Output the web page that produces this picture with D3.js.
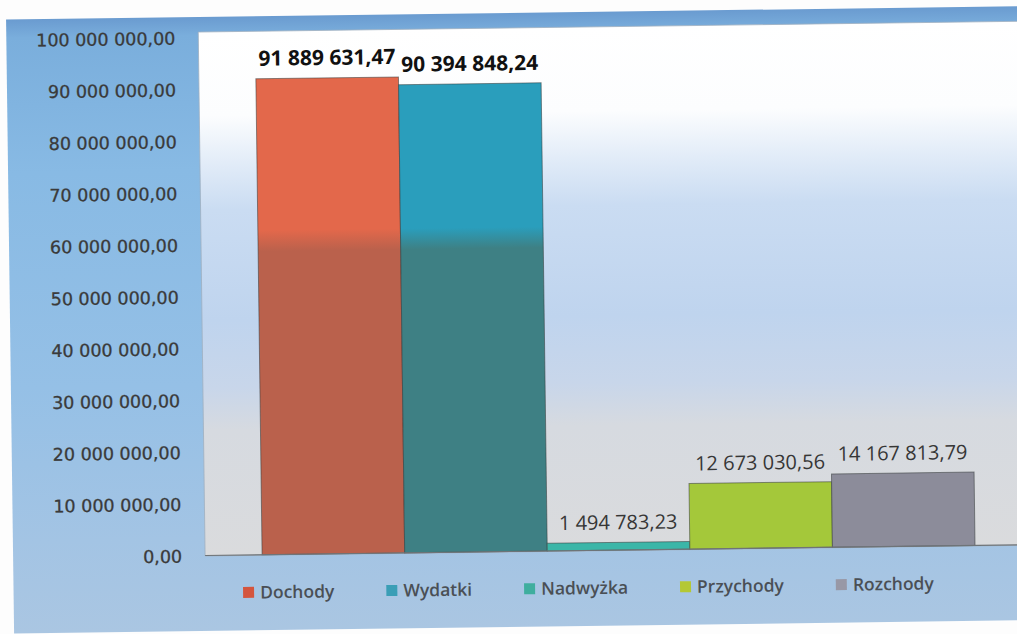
<!DOCTYPE html>
<html>
<head>
<meta charset="utf-8">
<script src="https://cdn.jsdelivr.net/npm/d3@7"></script>
<style>
  html, body { margin: 0; padding: 0; background: #fdfdfd; }
  svg { display: block; }
</style>
</head>
<body>
<svg id="chart" width="1017" height="634"></svg>
<script>
// ---- data ----
const categories = ["Dochody", "Wydatki", "Nadwyżka", "Przychody", "Rozchody"];
const values = [91889631.47, 90394848.24, 1494783.23, 12673030.56, 14167813.79];
const yTicks = [0, 10000000, 20000000, 30000000, 40000000, 50000000, 60000000, 70000000, 80000000, 90000000, 100000000];

// ---- styles ----
const barTop = ["#e3684b", "#2a9ebc", "#3fc2b2", "#acd23e", "#8e8f9d"];
const barBottom = ["#ba614c", "#3e8084", "#3bb6a8", "#a4c83a", "#8c8c9a"];
const legendColors = ["#d4553e", "#3a9eb6", "#3fae9e", "#b4c834", "#9898a6"];
const labelWeights = [700, 700, 400, 400, 400];

const pl = d3.formatLocale({ decimal: ",", thousands: " ", grouping: [3], currency: ["", ""] });
const fmt = pl.format(",.2f");

const svg = d3.select("#chart");
const defs = svg.append("defs");

const plot = { left: 202, right: 1030, top: 28, bottom: 552 };

const x = d3.scaleBand().domain(categories).range([259, 972]).padding(0);
const y = d3.scaleLinear().domain([0, 100000000]).range([551.5, 33.5]);

// gradients
const fg = defs.append("linearGradient").attr("id", "frameGrad")
  .attr("x1", 0).attr("y1", 0).attr("x2", 0).attr("y2", 1);
[[0, "#6a9bd0"], [0.03, "#7aaedc"], [0.25, "#88bae4"], [0.6, "#95c0e6"], [0.85, "#a3c4e4"], [1, "#aac6e2"]]
  .forEach(s => fg.append("stop").attr("offset", s[0]).attr("stop-color", s[1]));

const pg = defs.append("linearGradient").attr("id", "plotGrad")
  .attr("gradientUnits", "userSpaceOnUse")
  .attr("x1", 0).attr("y1", plot.top).attr("x2", 0).attr("y2", plot.bottom);
[[0, "#ffffff"], [0.16, "#fcfdfe"], [0.25, "#e2ecf8"], [0.34, "#cadcf2"], [0.55, "#bfd4ee"], [0.68, "#c8d6ea"], [0.76, "#d6dae0"], [1, "#dadbdd"]]
  .forEach(s => pg.append("stop").attr("offset", s[0]).attr("stop-color", s[1]));

categories.forEach((c, i) => {
  const g = defs.append("linearGradient").attr("id", "bar" + i)
    .attr("gradientUnits", "userSpaceOnUse")
    .attr("x1", 0).attr("y1", plot.top).attr("x2", 0).attr("y2", plot.bottom);
  g.append("stop").attr("offset", 0).attr("stop-color", barTop[i]);
  g.append("stop").attr("offset", 0.38).attr("stop-color", barTop[i]);
  g.append("stop").attr("offset", 0.42).attr("stop-color", barBottom[i]);
  g.append("stop").attr("offset", 1).attr("stop-color", barBottom[i]);
});

const root = svg.append("g").attr("transform", "rotate(-0.75 508 317)");

// outer frame
root.append("rect")
  .attr("x", 10).attr("y", 13).attr("width", 1040).attr("height", 614)
  .attr("fill", "url(#frameGrad)");

// plot area
root.append("rect")
  .attr("x", plot.left).attr("y", plot.top)
  .attr("width", plot.right - plot.left).attr("height", plot.bottom - plot.top)
  .attr("fill", "url(#plotGrad)")
  .attr("stroke", "#9fb0c0").attr("stroke-width", 0.8);

// bars
root.append("g").selectAll("rect").data(values).join("rect")
  .attr("x", (d, i) => x(categories[i]))
  .attr("y", d => y(d))
  .attr("width", x.bandwidth())
  .attr("height", d => y(0) - y(d))
  .attr("fill", (d, i) => "url(#bar" + i + ")")
  .attr("stroke", "rgba(55,60,60,0.55)")
  .attr("stroke-width", 1);

// baseline
root.append("line")
  .attr("x1", plot.left).attr("x2", plot.right)
  .attr("y1", y(0)).attr("y2", y(0))
  .attr("stroke", "#6f7478").attr("stroke-width", 1.2);

// y axis
const yAxis = root.append("g")
  .attr("transform", `translate(${plot.left},0)`)
  .call(d3.axisLeft(y).tickValues(yTicks).tickFormat(fmt).tickSize(0).tickPadding(23));
yAxis.select(".domain").remove();
yAxis.selectAll("text")
  .attr("font-family", "'DejaVu Sans', sans-serif")
  .attr("font-size", 17.5)
  .attr("fill", "#3a3a3a")
  .attr("stroke", "#3a3a3a")
  .attr("stroke-width", 0.3)
  .attr("dy", "0.36em");

// data labels
root.append("g").selectAll("text").data(values).join("text")
  .attr("x", (d, i) => x(categories[i]) + x.bandwidth() / 2)
  .attr("y", d => y(d) - 13)
  .attr("text-anchor", "middle")
  .attr("font-family", "'Open Sans', sans-serif")
  .attr("font-size", (d, i) => labelWeights[i] === 700 ? 21 : 20)
  .attr("font-weight", (d, i) => labelWeights[i])
  .attr("fill", (d, i) => labelWeights[i] === 700 ? "#111" : "#363636")
  .text(d => fmt(d));

// legend
const legend = root.append("g");
let lx = 239.5;
const ly = 589;
categories.forEach((c, i) => {
  legend.append("rect")
    .attr("x", lx).attr("y", ly - 5.5)
    .attr("width", 11).attr("height", 11)
    .attr("fill", legendColors[i]);
  const t = legend.append("text")
    .attr("x", lx + 17).attr("y", ly)
    .attr("dy", "0.35em")
    .attr("font-family", "'Open Sans', sans-serif")
    .attr("font-size", 17.5)
    .attr("font-weight", 600)
    .attr("fill", "#4a4f55")
    .text(c);
  lx = lx + 17 + t.node().getComputedTextLength() + 52;
});
</script>
</body>
</html>
